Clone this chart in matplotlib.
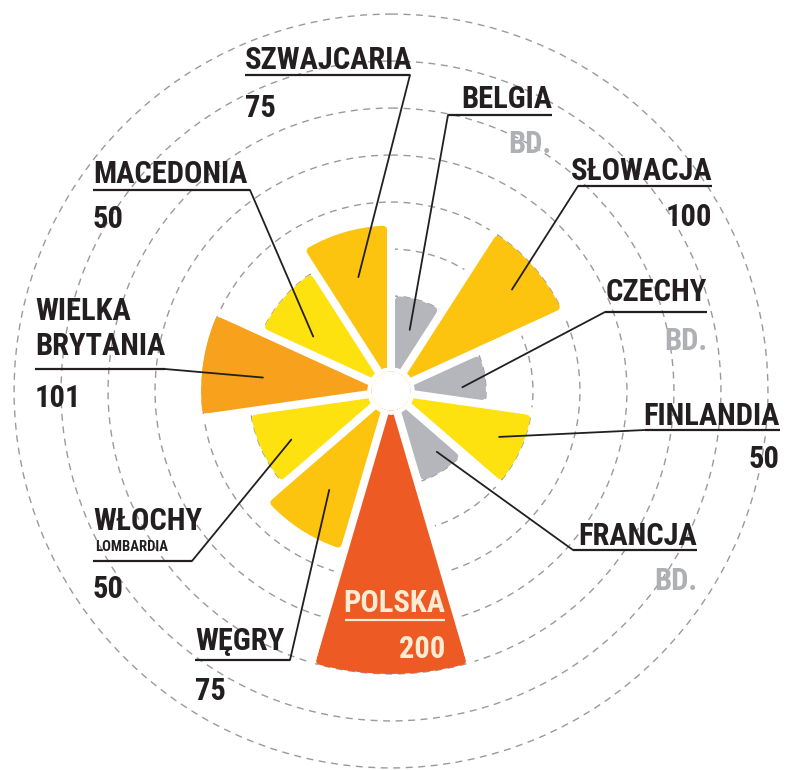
import numpy as np
import matplotlib.pyplot as plt
from matplotlib.patches import ConnectionPatch

# data, clockwise from the top
countries = ['BELGIA', 'SŁOWACJA', 'CZECHY', 'FINLANDIA', 'FRANCJA', 'POLSKA',
             'WĘGRY', 'WŁOCHY', 'WIELKA\nBRYTANIA', 'MACEDONIA', 'SZWAJCARIA']
values = [None, 100, None, 50, None, 200, 75, 50, 101, 50, 75]   # None = brak danych
notes = {'WŁOCHY': 'LOMBARDIA'}

colors = ['#b5b6bb', '#fcc40e', '#b5b6bb', '#fde210', '#b5b6bb', '#ee5a24',
          '#fcc40e', '#fde210', '#f7a11d', '#fde210', '#fcc40e']

# label layout in picture pixels (x, baseline y, alignment, underline x0-x1 and y,
# value baseline, leader end inside the wedge as angle/radius)
layout = {
    'BELGIA':     dict(x=552, y=108, ha='right', ul=(448, 552, 115), vy=153, a=17, r=-33),
    'SŁOWACJA':   dict(x=712, y=180, ha='right', ul=(578, 712, 186), vy=226, a=50, r=67),
    'CZECHY':     dict(x=707, y=301, ha='right', ul=(605, 707, 312), vy=350, a=87, r=-25),
    'FINLANDIA':  dict(x=780, y=425, ha='right', ul=(645, 780, 430), vy=468, a=113, r=24),
    'FRANCJA':    dict(x=697, y=545, ha='right', ul=(573, 697, 550), vy=590, a=143, r=-20),
    'POLSKA':     dict(x=445, y=612, ha='right', ul=(345, 445, 620), vy=658, a=None, r=None),
    'WĘGRY':      dict(x=195, y=650, ha='left', ul=(195, 290, 660), vy=700, a=212, r=23),
    'WŁOCHY':     dict(x=93, y=530, ha='left', ul=(93, 192, 561), vy=598, a=244, r=17),
    'WIELKA\nBRYTANIA': dict(x=35, y=355, ha='left', ul=(35, 165, 369), vy=407, a=276, r=36),
    'MACEDONIA':  dict(x=93, y=183, ha='left', ul=(93, 250, 190), vy=228, a=305, r=0),
    'SZWAJCARIA': dict(x=245, y=69, ha='left', ul=(245, 410, 75), vy=117, a=344, r=25),
}

W, H = 786, 770
cx, cy = 391, 391          # centre of the rose in picture pixels
px_per_unit = 0.94
r_origin, r_min, r_max = -101, -80, 305
gap_px = 4                 # half of the white gap between wedges
round_px = 4               # corner rounding

fig = plt.figure(figsize=(W / 100, H / 100), dpi=100)
R = (r_max - r_origin) * px_per_unit
ax = fig.add_axes([(cx - R) / W, (H - cy - R) / H, 2 * R / W, 2 * R / H], projection='polar')
ax.set_theta_zero_location('N')
ax.set_theta_direction(-1)

n = len(countries)
width = 2 * np.pi / n
theta = np.arange(n) * width + width / 2
bar_vals = np.array([0 if v is None else v for v in values], dtype=float)

# bars drawn a little inside and stroked in their own colour -> rounded corners
inset = round_px / px_per_unit
outer_px = (bar_vals - inset - r_origin) * px_per_unit
bar_w = width - 2 * np.arcsin((gap_px + round_px) / outer_px)
ax.bar(theta, bar_vals - inset - r_min, width=bar_w, bottom=r_min, color=colors,
       edgecolor=colors, linewidth=2 * round_px * 0.72, joinstyle='round', zorder=2)

# white gaps of constant width between the wedges
for k in range(n):
    t = k * width
    reach = max(bar_vals[k - 1], bar_vals[k]) + 12
    ax.plot([t, t], [r_min, reach], color='white', lw=2 * gap_px * 0.72,
            solid_capstyle='butt', zorder=3)
# white hole in the middle
ax.bar(0, 23 / px_per_unit + r_origin - r_min, width=2 * np.pi, bottom=r_min,
       color='white', edgecolor='white', linewidth=1, zorder=10)

ax.set_ylim(r_min, r_max)
ax.set_rorigin(r_origin)
ax.set_yticks(np.arange(0, 301, 50))
ax.set_yticklabels([])
ax.set_xticks([])
ax.yaxis.grid(True, color='#9a9a9a', linestyle=(0, (5, 4)), linewidth=1.0)
ax.xaxis.grid(False)
ax.set_axisbelow(True)
for s in ax.spines.values():
    s.set_visible(False)
    s.set_linewidth(0)
    s.set_color('none')

# overlay in picture pixels for the labels
ov = fig.add_axes([0, 0, 1, 1])
ov.set_xlim(0, W)
ov.set_ylim(H, 0)
ov.axis('off')
ov.patch.set_alpha(0)

fam = ['Roboto Condensed', 'DejaVu Sans']
dark = '#231f20'
grey = '#aeb0b4'
cream = '#fdebd4'
fs = 22

for name, v in zip(countries, values):
    p = layout[name]
    col = cream if name == 'POLSKA' else dark
    lines = name.split('\n')
    for j, line in enumerate(lines):
        yy = p['y'] - (len(lines) - 1 - j) * 35
        ov.text(p['x'], yy, line, ha=p['ha'], va='baseline', fontsize=fs,
                fontweight='bold', fontstretch='condensed', family=fam, color=col)
    if name in notes:
        ov.text(p['x'] + 2, p['y'] + 21, notes[name], ha='left', va='baseline',
                fontsize=10.5, fontweight='bold', fontstretch='condensed', family=fam, color=dark)
    x0, x1, uy = p['ul']
    ov.plot([x0, x1], [uy, uy], color=col, lw=1.6, solid_capstyle='butt')
    txt = 'BD.' if v is None else str(v)
    ov.text(p['x'], p['vy'], txt, ha=p['ha'], va='baseline', fontsize=fs,
            fontweight='bold', fontstretch='condensed', family=fam,
            color=grey if v is None else col)
    if p['a'] is not None:
        end = (x1, uy) if p['ha'] == 'left' else (x0, uy)
        con = ConnectionPatch(xyA=(np.deg2rad(p['a']), p['r']), coordsA=ax.transData,
                              xyB=end, coordsB=ov.transData, color=dark, lw=1.3)
        fig.add_artist(con)

fig.savefig('out.png', dpi=100)
